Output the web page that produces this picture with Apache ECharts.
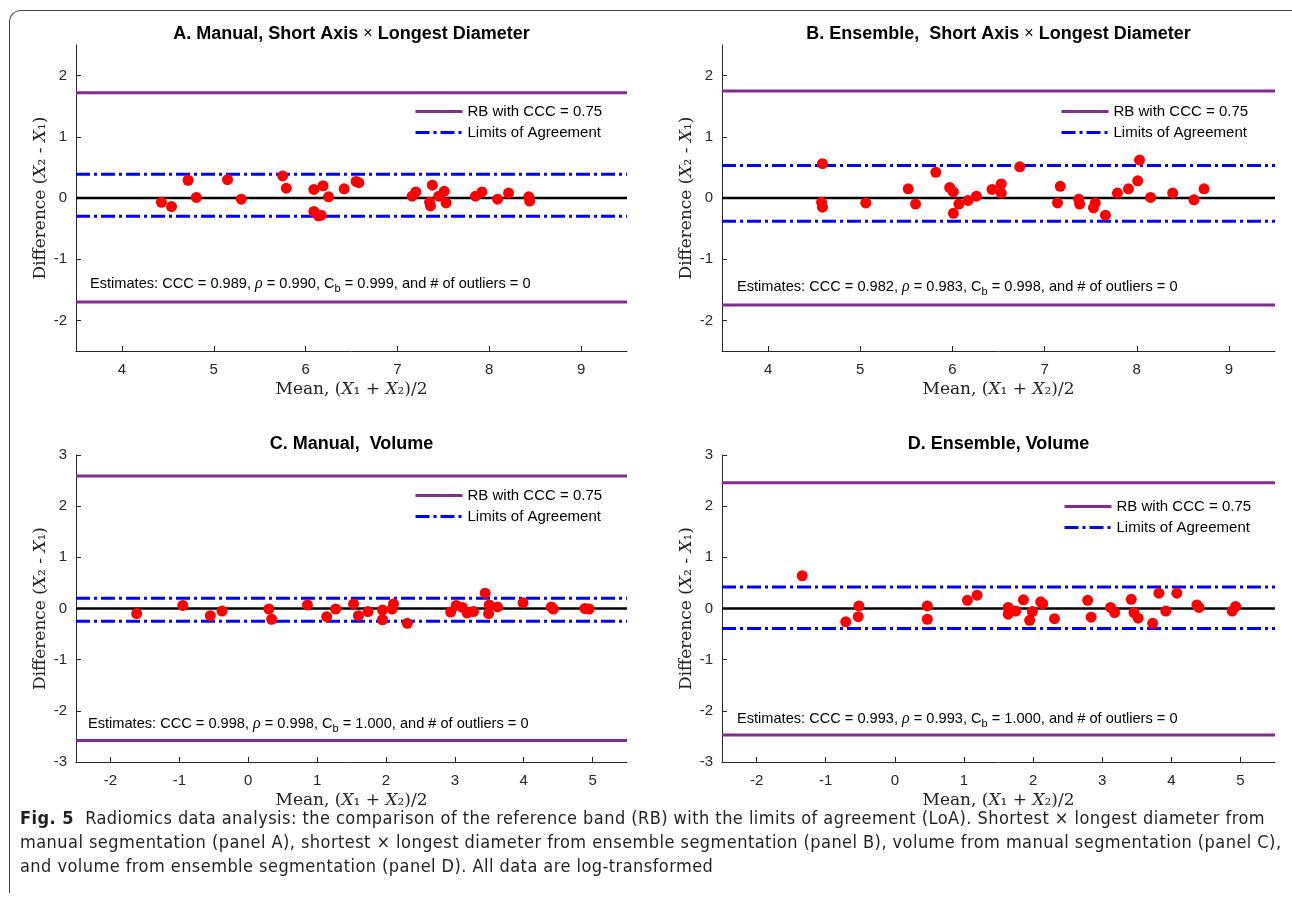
<html>
<head>
<meta charset="UTF-8">
<script src="https://cdn.jsdelivr.net/npm/echarts@6/dist/echarts.min.js"></script>
<style>
  body { margin: 0; background: #fff; }
  #frame { position: absolute; left: 9px; top: 10px; width: 1300px; height: 882px; z-index: 6; pointer-events: none;
           border-top: 1px solid #444; border-left: 1px solid #444; border-top-left-radius: 12px; }
  #chart { position: absolute; left: 0; top: 0; width: 1292px; height: 902px; }
  #caption { position: absolute; left: 20px; top: 806px; font-family: "Liberation Sans Narrow", "DejaVu Sans Condensed", sans-serif;
             font-size: 18px; letter-spacing: 0.45px; line-height: 24px; color: #231f20; white-space: nowrap; z-index: 5; }
  #caption b { font-weight: bold; }
</style>
</head>
<body>
<div id="frame"></div>
<div id="chart"></div>
<div id="caption">
  <div><b>Fig. 5</b>&nbsp; Radiomics data analysis: the comparison of the reference band (RB) with the limits of agreement (LoA). Shortest × longest diameter from</div>
  <div>manual segmentation (panel A), shortest × longest diameter from ensemble segmentation (panel B), volume from manual segmentation (panel C),</div>
  <div>and volume from ensemble segmentation (panel D). All data are log-transformed</div>
</div>

<script type="text/javascript">

// panel A: manual, short axis x longest diameter
var meanA = [4.43, 4.54, 4.72, 4.81, 5.15, 5.30, 5.75, 5.79, 6.09, 6.19, 6.25, 6.09, 6.14, 6.17, 6.42, 6.55, 6.58,
             7.16, 7.20, 7.38, 7.35, 7.36, 7.45, 7.51, 7.53, 7.85, 7.92, 8.09, 8.21, 8.43, 8.44];
var diffA = [-0.07, -0.14, 0.29, 0.01, 0.30, -0.02, 0.36, 0.16, 0.14, 0.20, 0.02, -0.22, -0.29, -0.28, 0.15, 0.27, 0.25,
             0.03, 0.10, 0.21, -0.07, -0.13, 0.03, 0.11, -0.08, 0.03, 0.10, -0.02, 0.08, 0.02, -0.05];

// panel B: ensemble, short axis x longest diameter
var meanB = [4.59, 4.58, 4.59, 5.06, 5.52, 5.60, 5.82, 5.97, 6.01, 6.07, 6.01, 6.17, 6.26, 6.43, 6.53, 6.53,
             6.73, 7.14, 7.17, 7.37, 7.38, 7.53, 7.55, 7.66, 7.79, 7.91, 8.01, 8.03, 8.15, 8.39, 8.62, 8.73];
var diffB = [0.56, -0.07, -0.15, -0.08, 0.15, -0.10, 0.42, 0.17, 0.10, -0.10, -0.25, -0.04, 0.03, 0.14, 0.23, 0.08,
             0.51, -0.08, 0.19, -0.02, -0.10, -0.16, -0.08, -0.28, 0.08, 0.15, 0.28, 0.62, 0.01, 0.08, -0.03, 0.15];

// panel C: manual, volume
var meanC = [-1.62, -0.95, -0.55, -0.38, 0.30, 0.34, 0.86, 1.14, 1.27, 1.53, 1.60, 1.74, 1.95, 1.95, 2.09, 2.11,
             2.31, 2.94, 3.02, 3.11, 3.18, 3.27, 3.44, 3.50, 3.49, 3.62, 3.99, 4.40, 4.43, 4.89, 4.95];
var diffC = [-0.10, 0.06, -0.14, -0.05, -0.01, -0.21, 0.07, -0.16, -0.01, 0.09, -0.14, -0.06, -0.03, -0.22, -0.01, 0.09,
             -0.29, -0.07, 0.06, 0.02, -0.09, -0.06, 0.30, 0.07, -0.10, 0.03, 0.11, 0.03, -0.01, 0.00, -0.01];

// panel D: ensemble, volume
var meanD = [-1.34, -0.71, -0.52, -0.53, 0.47, 0.47, 1.05, 1.19, 1.64, 1.64, 1.75, 1.86, 1.99, 1.95, 2.11, 2.14,
             2.31, 2.79, 2.84, 3.12, 3.18, 3.42, 3.46, 3.52, 3.73, 3.82, 3.92, 4.08, 4.37, 4.40, 4.88, 4.93];
var diffD = [0.64, -0.26, 0.05, -0.16, 0.05, -0.21, 0.16, 0.26, 0.02, -0.11, -0.05, 0.17, -0.06, -0.23, 0.13, 0.09,
             -0.20, 0.16, -0.17, 0.02, -0.08, 0.18, -0.08, -0.19, -0.29, 0.30, -0.05, 0.30, 0.07, 0.02, -0.05, 0.04];

// reference band and limits of agreement, per panel A-D
var rbUpper  = [1.72, 1.75, 2.59, 2.46];
var rbLower  = [-1.70, -1.75, -2.58, -2.47];
var loaUpper = [0.39, 0.53, 0.20, 0.42];
var loaLower = [-0.30, -0.38, -0.25, -0.39];

// axis ranges and tick labels
var xRange = [[3.5, 9.5], [3.5, 9.5], [-2.5, 5.5], [-2.5, 5.5]];
var yRange = [[-2.5, 2.5], [-2.5, 2.5], [-3, 3], [-3, 3]];
var xTicks = [[4, 5, 6, 7, 8, 9], [4, 5, 6, 7, 8, 9], [-2, -1, 0, 1, 2, 3, 4, 5], [-2, -1, 0, 1, 2, 3, 4, 5]];
var yTicks = [[-2, -1, 0, 1, 2], [-2, -1, 0, 1, 2], [-3, -2, -1, 0, 1, 2, 3], [-3, -2, -1, 0, 1, 2, 3]];

var panelTitles = [
  ['A. Manual, Short Axis ', ' Longest Diameter'],
  ['B. Ensemble,  Short Axis ', ' Longest Diameter'],
  ['C. Manual,  Volume'],
  ['D. Ensemble, Volume']
];
var estimates = [
  ['0.989', '0.990', '0.999', '0'],
  ['0.982', '0.983', '0.998', '0'],
  ['0.998', '0.998', '1.000', '0'],
  ['0.993', '0.993', '1.000', '0']
];

var means = [meanA, meanB, meanC, meanD];
var diffs = [diffA, diffB, diffC, diffD];

// layout of the four panels (px)
var grids = [
  {left: 76, top: 45, width: 551, height: 306},
  {left: 722, top: 45, width: 553, height: 306},
  {left: 76, top: 455, width: 551, height: 307},
  {left: 722, top: 455, width: 553, height: 307}
];
var legendPos = [{left: 414, top: 104}, {left: 1060, top: 104}, {left: 414, top: 488}, {left: 1063, top: 499}];
var estPos = [[90, 284], [737, 287], [88, 724], [737, 719]];

var AX = '#262626';
var SANS = 'Liberation Sans, Arial, sans-serif';
var SERIF = 'DejaVu Serif, Liberation Serif, serif';
var RB_NAME = 'RB with CCC = 0.75';
var LOA_NAME = 'Limits of Agreement';

var myChart = echarts.init(document.getElementById('chart'));

var option = {
  backgroundColor: '#fff',
  animation: false,
  grid: [], xAxis: [], yAxis: [], series: [], legend: [], graphic: []
};

var nameRich = {
  t: {fontFamily: SERIF, fontSize: 17, color: '#222'},
  i: {fontFamily: SERIF, fontSize: 17, fontStyle: 'italic', color: '#222'}
};

for (var i = 0; i < 4; i++) {
  option.grid.push(grids[i]);
  option.xAxis.push({
    gridIndex: i, type: 'value', min: xRange[i][0], max: xRange[i][1],
    name: '{t|Mean, (}{i|X}{t|₁ + }{i|X}{t|₂)/2}',
    nameLocation: 'middle', nameGap: 30,
    nameTextStyle: {rich: nameRich},
    axisLine: {show: true, onZero: false, lineStyle: {color: AX, width: 1}},
    axisTick: {show: true, inside: true, length: 5, customValues: xTicks[i], lineStyle: {color: AX}},
    axisLabel: {customValues: xTicks[i], color: AX, fontSize: 15, fontFamily: SANS, margin: 11},
    splitLine: {show: false}
  });
  option.yAxis.push({
    gridIndex: i, type: 'value', min: yRange[i][0], max: yRange[i][1],
    name: '{t|Difference (}{i|X}{t|₂ - }{i|X}{t|₁)}',
    nameLocation: 'middle', nameGap: 27,
    nameTextStyle: {rich: nameRich},
    axisLine: {show: true, onZero: false, lineStyle: {color: AX, width: 1}},
    axisTick: {show: true, inside: true, length: 5, customValues: yTicks[i], lineStyle: {color: AX}},
    axisLabel: {customValues: yTicks[i], color: AX, fontSize: 15, fontFamily: SANS, margin: 9},
    splitLine: {show: false}
  });

  var x0 = xRange[i][0], x1 = xRange[i][1];
  option.series.push({
    name: 'zero', type: 'line', xAxisIndex: i, yAxisIndex: i, symbol: 'none', silent: true,
    data: [[x0, 0], [x1, 0]], lineStyle: {color: '#000', width: 2.5}, z: 2
  });
  option.series.push({
    name: RB_NAME, type: 'line', xAxisIndex: i, yAxisIndex: i, symbol: 'none',
    data: [[x0, rbUpper[i]], [x1, rbUpper[i]]], lineStyle: {color: '#7E2F8E', width: 3}, itemStyle: {color: '#7E2F8E'}, z: 2
  });
  option.series.push({
    name: RB_NAME, type: 'line', xAxisIndex: i, yAxisIndex: i, symbol: 'none',
    data: [[x0, rbLower[i]], [x1, rbLower[i]]], lineStyle: {color: '#7E2F8E', width: 3}, itemStyle: {color: '#7E2F8E'}, z: 2
  });
  option.series.push({
    name: LOA_NAME, type: 'line', xAxisIndex: i, yAxisIndex: i, symbol: 'none',
    data: [[x0, loaUpper[i]], [x1, loaUpper[i]]],
    lineStyle: {color: '#0000FF', width: 3, type: [14, 4, 3, 4], cap: 'butt'}, itemStyle: {color: '#0000FF'}, z: 2
  });
  option.series.push({
    name: LOA_NAME, type: 'line', xAxisIndex: i, yAxisIndex: i, symbol: 'none',
    data: [[x0, loaLower[i]], [x1, loaLower[i]]],
    lineStyle: {color: '#0000FF', width: 3, type: [14, 4, 3, 4], cap: 'butt'}, itemStyle: {color: '#0000FF'}, z: 2
  });
  var pts = [];
  for (var k = 0; k < means[i].length; k++) pts.push([means[i][k], diffs[i][k]]);
  option.series.push({
    name: 'data', type: 'scatter', xAxisIndex: i, yAxisIndex: i, symbol: 'circle', symbolSize: 11,
    data: pts, itemStyle: {color: '#FF0000', opacity: 1}, z: 5
  });

  option.legend.push({
    data: [RB_NAME, LOA_NAME], orient: 'vertical', left: legendPos[i].left, top: legendPos[i].top,
    itemWidth: 47, itemHeight: 14, itemGap: 6, padding: 0, selectedMode: false,
    itemStyle: {opacity: 0},
    lineStyle: {width: 3},
    textStyle: {fontSize: 15, fontFamily: SANS, color: '#000', padding: [0, 0, 0, 0]}
  });

  // panel title
  var tt = panelTitles[i];
  var titleText = tt.length > 1 ? '{b|' + tt[0] + '}{x|×}{b|' + tt[1] + '}' : '{b|' + tt[0] + '}';
  option.graphic.push({
    type: 'text', x: grids[i].left + grids[i].width / 2, y: grids[i].top - 11,
    style: {
      text: titleText, align: 'center', verticalAlign: 'middle',
      rich: {
        b: {fontFamily: SANS, fontSize: 18, fontWeight: 'bold', fill: '#000'},
        x: {fontFamily: SANS, fontSize: 16, fill: '#000'}
      }
    }
  });

  // estimates line
  var e = estimates[i];
  option.graphic.push({
    type: 'text', x: estPos[i][0], y: estPos[i][1],
    style: {
      text: '{t|Estimates: CCC = ' + e[0] + ', }{r|ρ}{t| = ' + e[1] + ', C}{s|b}{t| = ' + e[2] + ', and # of outliers = ' + e[3] + '}',
      align: 'left', verticalAlign: 'middle',
      rich: {
        t: {fontFamily: SANS, fontSize: 14.6, fill: '#000'},
        r: {fontFamily: 'Liberation Serif, serif', fontSize: 16, fontStyle: 'italic', fill: '#000'},
        s: {fontFamily: SANS, fontSize: 11, fill: '#000', padding: [10, 0, 0, 0]}
      }
    }
  });
}

myChart.setOption(option);

</script>
</body>
</html>
